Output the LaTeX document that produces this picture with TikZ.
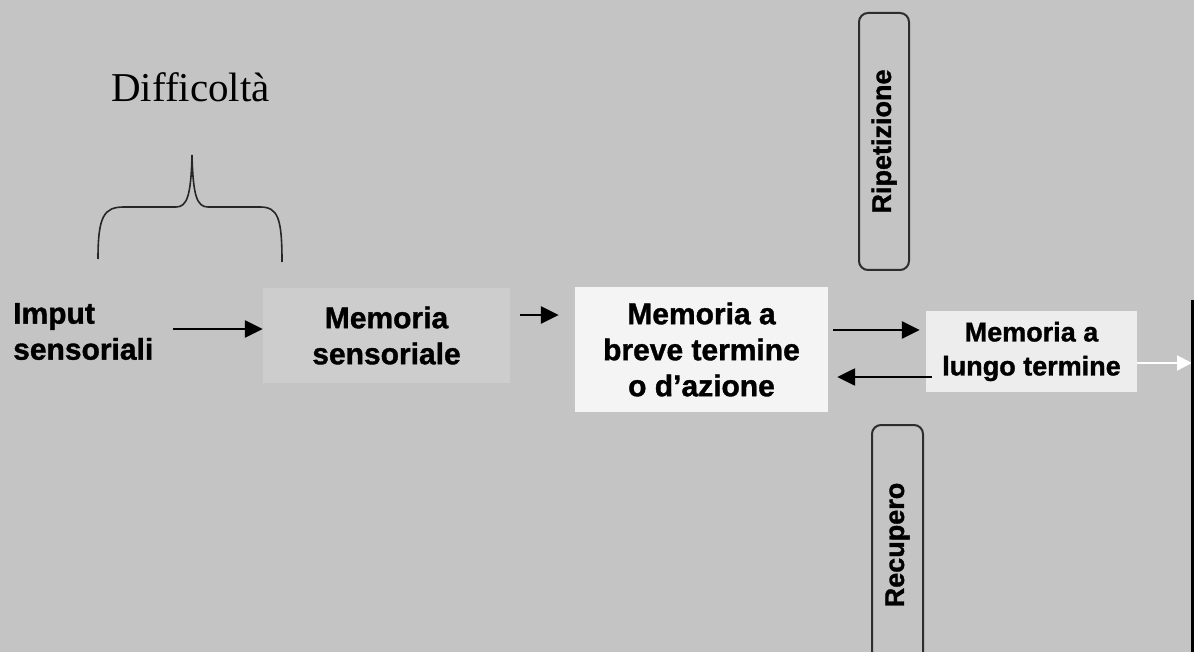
\documentclass[tikz,border=0pt]{standalone}
\usepackage{fontspec}
\setmainfont{Liberation Sans}[BoldFeatures={FakeBold=1.2}]
\newfontfamily\serifface{Liberation Serif}
\usetikzlibrary{arrows.meta,calc}

\definecolor{paper}{RGB}{196,196,196}
\definecolor{sensfill}{RGB}{205,205,205}
\definecolor{brevefill}{RGB}{244,244,244}
\definecolor{lungofill}{RGB}{237,237,237}
\definecolor{framecol}{RGB}{45,45,45}

\tikzset{
  memtext/.style={font=\bfseries\fontsize{30}{36}\selectfont, align=center, inner sep=0pt},
  roundbox/.style={draw=framecol, line width=2pt, rounded corners=9pt, inner sep=0pt,
    font=\bfseries\fontsize{27}{30}\selectfont},
  arr/.style={line width=2.5pt, -{Triangle[length=18pt,width=17pt]}},
  whitearr/.style={white, line width=2pt, -{Triangle[length=15pt,width=15pt]}},
}

\begin{document}
\begin{tikzpicture}[x=1pt,y=-1pt]
  % canvas
  \fill[paper] (0,0) rectangle (1194,652);
  \useasboundingbox (0,0) rectangle (1194,652);

  % title over the brace
  \node[font=\serifface\fontsize{41}{45}\selectfont, anchor=base, inner sep=0pt] (diff) at (190.5,102) {Difficoltà};
  \draw[line width=1.6pt, black!85]
    (98,259) .. controls (98,216) and (104,207) .. (124,207) -- (176,207)
    .. controls (187,207) and (191,196) .. (192,155)
    .. controls (193,196) and (197,207) .. (208,207) -- (260,207)
    .. controls (278,207) and (282,218) .. (282,262);

  % input label
  \node[memtext, align=left, anchor=west] (imput) at (13,331.5) {Imput\\sensoriali};

  % memory stores
  \node[memtext, fill=sensfill, minimum width=247pt, minimum height=95pt] (sens) at (386.5,335.5) {Memoria\\sensoriale};
  \node[memtext, fill=brevefill, minimum width=253pt, minimum height=125pt] (breve) at (701.5,349.5) {Memoria a\\breve termine\\o d’azione};
  \node[memtext, font=\bfseries\fontsize{27}{34}\selectfont, fill=lungofill, minimum width=211pt, minimum height=81pt] (lungo) at (1031.5,351.5) {Memoria a\\lungo termine};

  % control processes
  \node[roundbox, minimum width=50pt, minimum height=257pt] (rip) at (884,141.5) {\rotatebox{90}{Ripetizione}};
  \node[roundbox, minimum width=51pt, minimum height=240pt] (rec) at (897.5,545) {\rotatebox{90}{Recupero}};

  % flow arrows
  \coordinate (a1) at ([yshift=6.5pt]sens.west);
  \path (imput.east) ++(20,0) coordinate (i1);
  \draw[arr] (i1 |- a1) -- (a1);
  \draw[arr] ([xshift=10pt,yshift=20.5pt]sens.east) -- ([xshift=-16pt,yshift=34.5pt]breve.west);
  \draw[arr] ([xshift=5pt,yshift=19.5pt]breve.east) -- ([xshift=-6pt,yshift=21.5pt]lungo.west);
  \draw[arr] ([xshift=6pt,yshift=-25.5pt]lungo.west) -- ([xshift=9pt,yshift=-27.5pt]breve.east);
  \coordinate (out) at (1192,363);
  \draw[whitearr] ([yshift=-11.5pt]lungo.east) -- (out);

  % right margin rule
  \coordinate (r1) at (1192.5,300);
  \coordinate (r2) at (1192.5,652);
  \draw[line width=2.5pt, black] (r1) -- (r2);
\end{tikzpicture}
\end{document}
